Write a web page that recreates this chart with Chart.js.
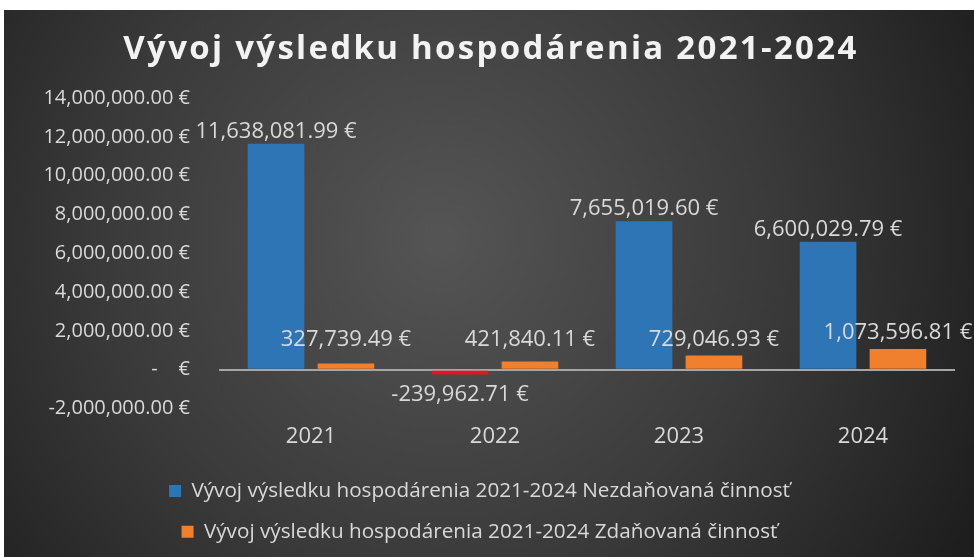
<!DOCTYPE html>
<html>
<head>
<meta charset="utf-8">
<script src="https://cdn.jsdelivr.net/npm/chart.js@4.4.1/dist/chart.umd.min.js"></script>
<style>
    html, body { margin: 0; padding: 0; background: #ffffff; }
    #wrap { position: absolute; left: 4px; top: 10px; width: 970px; height: 547px; }
</style>
</head>
<body>
<div id="wrap"><canvas id="vysledok" width="970" height="547"></canvas></div>
<script>
    // data
    var years = ['2021', '2022', '2023', '2024'];
    var nezdanovana = [11638081.99, -239962.71, 7655019.60, 6600029.79];
    var zdanovana = [327739.49, 421840.11, 729046.93, 1073596.81];
    var seriesNames = [
        'Vývoj výsledku hospodárenia 2021-2024 Nezdaňovaná činnosť',
        'Vývoj výsledku hospodárenia 2021-2024 Zdaňovaná činnosť'
    ];
    var chartTitle = 'Vývoj výsledku hospodárenia 2021-2024';
    var yMin = -2000000;
    var yMax = 14000000;
    var yStep = 2000000;

    var FONT = '"Open Sans", Lato, sans-serif';
    var TEXT = '#d9d9d9';
    var BLUE = '#2e75b6';
    var ORANGE = '#f07f2e';
    var RED = '#e3161b';

    function eur(v) {
        if (v === 0) {
            return '-    €';
        }
        return v.toLocaleString('en-US', {minimumFractionDigits: 2, maximumFractionDigits: 2}) + ' €';
    }

    // dark radial background like the Excel chart style
    var background = {
        id: 'background',
        beforeDraw: function (chart) {
            var ctx = chart.ctx;
            var w = chart.width, h = chart.height;
            var g = ctx.createRadialGradient(w * 0.45, h * 0.42, 10, w * 0.45, h * 0.42, w * 0.62);
            g.addColorStop(0, '#545454');
            g.addColorStop(0.55, '#3a3a3a');
            g.addColorStop(1, '#1e1e1e');
            ctx.save();
            ctx.fillStyle = g;
            ctx.fillRect(0, 0, w, h);
            ctx.restore();
        }
    };

    // spaced-out title, the Chart.js title has no letter spacing
    var spacedTitle = {
        id: 'spacedTitle',
        afterDraw: function (chart) {
            var ctx = chart.ctx;
            ctx.save();
            ctx.font = 'bold 33px ' + FONT;
            ctx.letterSpacing = '2.3px';
            ctx.fillStyle = '#f2f2f2';
            ctx.textAlign = 'center';
            ctx.textBaseline = 'middle';
            ctx.fillText(chartTitle, chart.width / 2 + 2, 40);
            ctx.restore();
        }
    };

    // value labels over / under the bars
    var valueLabels = {
        id: 'valueLabels',
        afterDatasetsDraw: function (chart) {
            var ctx = chart.ctx;
            ctx.save();
            ctx.font = '22px ' + FONT;
            ctx.fillStyle = TEXT;
            ctx.textAlign = 'center';
            ctx.textBaseline = 'middle';
            chart.data.datasets.forEach(function (ds, di) {
                var meta = chart.getDatasetMeta(di);
                meta.data.forEach(function (bar, i) {
                    var v = ds.data[i];
                    var y;
                    if (v < 0) {
                        y = bar.y + 20;
                    } else if (di === 0) {
                        y = bar.y - 12;
                    } else {
                        y = Math.min(bar.y - 16, bar.base - 29);
                    }
                    ctx.fillText(eur(v), bar.x, y);
                });
            });
            ctx.restore();
        }
    };

    var ctx = document.getElementById('vysledok');
    var chart = new Chart(ctx, {
        type: 'bar',
        data: {
            labels: years,
            datasets: [
                {
                    label: seriesNames[0],
                    data: nezdanovana,
                    backgroundColor: nezdanovana.map(function (v) { return v < 0 ? RED : BLUE; }),
                    categoryPercentage: 0.76,
                    barPercentage: 0.81
                },
                {
                    label: seriesNames[1],
                    data: zdanovana,
                    backgroundColor: ORANGE,
                    categoryPercentage: 0.76,
                    barPercentage: 0.81
                }
            ]
        },
        options: {
            responsive: false,
            animation: false,
            devicePixelRatio: 1,
            layout: {
                padding: {left: 0, right: 19, top: 88, bottom: 5}
            },
            plugins: {
                title: {display: false},
                legend: {
                    position: 'bottom',
                    labels: {
                        color: TEXT,
                        font: {family: FONT, size: 20.7},
                        boxWidth: 12,
                        boxHeight: 12,
                        padding: 20,
                        // blue square for the whole series in the legend
                        generateLabels: function (c) {
                            return c.data.datasets.map(function (ds, i) {
                                return {
                                    text: ds.label,
                                    fillStyle: i === 0 ? BLUE : ORANGE,
                                    strokeStyle: 'transparent',
                                    lineWidth: 0,
                                    fontColor: TEXT,
                                    datasetIndex: i
                                };
                            });
                        }
                    }
                },
                tooltip: {enabled: false}
            },
            scales: {
                x: {
                    grid: {display: false, drawTicks: false},
                    border: {display: false},
                    ticks: {color: TEXT, font: {family: FONT, size: 22}, padding: 15},
                    afterFit: function (scale) {
                        scale.height = 52;
                    }
                },
                y: {
                    min: yMin,
                    max: yMax,
                    afterFit: function (scale) {
                        scale.width = 215;
                    },
                    ticks: {
                        stepSize: yStep,
                        color: TEXT,
                        font: {family: FONT, size: 20},
                        padding: 29,
                        callback: function (v) { return eur(v); }
                    },
                    border: {display: false},
                    grid: {
                        drawTicks: false,
                        lineWidth: 2,
                        color: function (c) {
                            return c.tick && c.tick.value === 0 ? '#a6a6a6' : 'transparent';
                        }
                    }
                }
            }
        },
        plugins: [background, spacedTitle, valueLabels]
    });
</script>
</body>
</html>
